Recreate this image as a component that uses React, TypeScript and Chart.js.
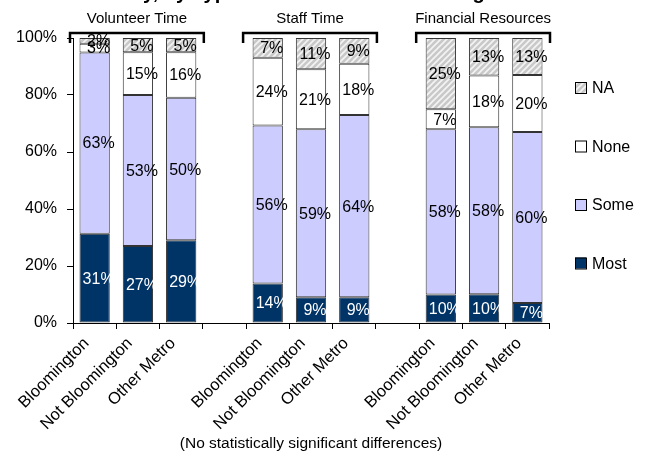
import React, { useEffect, useRef } from 'react';
import { Chart, registerables } from 'chart.js';

Chart.register(...registerables);

const categories = [
  'Bloomington', 'Not Bloomington', 'Other Metro', '',
  'Bloomington', 'Not Bloomington', 'Other Metro', '',
  'Bloomington', 'Not Bloomington', 'Other Metro',
];
const groupTitles = ['Volunteer Time', 'Staff Time', 'Financial Resources'];
const mostValues = [31, 27, 29, null, 14, 9, 9, null, 10, 10, 7];
const someValues = [63, 53, 50, null, 56, 59, 64, null, 58, 58, 60];
const noneValues = [3, 15, 16, null, 24, 21, 18, null, 7, 18, 20];
const naValues = [2, 5, 5, null, 7, 11, 9, null, 25, 13, 13];
const seriesNames = ['Most', 'Some', 'None', 'NA'];
const yTicks = [0, 20, 40, 60, 80, 100];
const footnote = '(No statistically significant differences)';
const titleText = 'Activity, by Type of Resource and Funding';

const FONT = 'Arial, "Liberation Sans", sans-serif';

function makeHatch(): CanvasPattern | string {
  const c = document.createElement('canvas');
  c.width = 6;
  c.height = 6;
  const g = c.getContext('2d');
  if (!g) return '#cccccc';
  g.fillStyle = '#c9c9c9';
  g.fillRect(0, 0, 6, 6);
  g.strokeStyle = '#f4f4f4';
  g.lineWidth = 1.6;
  g.beginPath();
  g.moveTo(-1, 7); g.lineTo(7, -1);
  g.moveTo(-1, 1); g.lineTo(1, -1);
  g.moveTo(5, 7); g.lineTo(7, 5);
  g.stroke();
  const p = g.createPattern(c, 'repeat');
  return p || '#cccccc';
}

export default function App() {
  const ref = useRef<HTMLCanvasElement | null>(null);

  useEffect(() => {
    if (!ref.current) return;
    const raw = [mostValues, someValues, noneValues, naValues];
    const totals = categories.map((_, i) =>
      raw.reduce((s, arr) => s + (arr[i] == null ? 0 : (arr[i] as number)), 0)
    );
    const norm = (arr: (number | null)[]) =>
      arr.map((v, i) => (v == null ? null : (v / totals[i]) * 100));
    const hatch = makeHatch();
    const fills = ['#003366', '#CCCCFF', '#FFFFFF', hatch];
    const labelColors = ['#FFFFFF', '#000000', '#000000', '#000000'];

    const overlay = {
      id: 'overlay',
      afterDraw(chart: any) {
        const ctx = chart.ctx as CanvasRenderingContext2D;
        const xs = chart.scales.x;
        const area = chart.chartArea;
        ctx.save();
        // data labels
        ctx.font = `16px ${FONT}`;
        ctx.textAlign = 'center';
        ctx.textBaseline = 'middle';
        raw.forEach((arr, d) => {
          const meta = chart.getDatasetMeta(d);
          meta.data.forEach((el: any, i: number) => {
            const v = arr[i];
            if (v == null) return;
            ctx.fillStyle = labelColors[d];
            ctx.fillText(`${v}%`, el.x + 4, (el.y + el.base) / 2 + 1);
          });
        });
        // x category labels (rotated)
        ctx.fillStyle = '#000';
        ctx.font = `16.5px ${FONT}`;
        ctx.textAlign = 'right';
        ctx.textBaseline = 'alphabetic';
        categories.forEach((c, i) => {
          if (!c) return;
          const x = xs.getPixelForValue(i) - 5;
          const y = area.bottom + 21;
          ctx.save();
          ctx.translate(x, y);
          ctx.rotate(-Math.PI / 4);
          ctx.fillText(c, 0, 0);
          ctx.restore();
        });
        // group titles and brackets
        const slot = xs.getPixelForValue(1) - xs.getPixelForValue(0);
        groupTitles.forEach((t, g) => {
          const x0 = xs.getPixelForValue(g * 4) - slot / 2 - 3;
          const x1 = xs.getPixelForValue(g * 4 + 2) + slot / 2 + 1;
          ctx.strokeStyle = '#000';
          ctx.lineWidth = 2.5;
          ctx.beginPath();
          ctx.moveTo(x0, area.top + 5);
          ctx.lineTo(x0, area.top - 5);
          ctx.lineTo(x1, area.top - 5);
          ctx.lineTo(x1, area.top + 5);
          ctx.stroke();
          ctx.fillStyle = '#000';
          ctx.font = `15px ${FONT}`;
          ctx.textAlign = 'center';
          ctx.textBaseline = 'alphabetic';
          ctx.fillText(t, (x0 + x1) / 2, area.top - 15);
        });
        // legend
        const order = [3, 2, 1, 0];
        const lx = area.right + 26;
        order.forEach((d, k) => {
          const cy = area.top + 50 + k * 58.5;
          ctx.fillStyle = fills[d] as any;
          ctx.fillRect(lx, cy - 6, 11, 11);
          ctx.strokeStyle = '#000';
          ctx.lineWidth = 1;
          ctx.strokeRect(lx + 0.5, cy - 5.5, 11, 11);
          ctx.fillStyle = '#000';
          ctx.font = `16px ${FONT}`;
          ctx.textAlign = 'left';
          ctx.textBaseline = 'middle';
          ctx.fillText(seriesNames[d], lx + 17, cy + 1);
        });
        // footnote
        ctx.font = `15.5px ${FONT}`;
        ctx.textAlign = 'center';
        ctx.textBaseline = 'middle';
        ctx.fillText(footnote, (area.left + area.right) / 2, 444);
        // clipped title
        ctx.font = `bold 20px ${FONT}`;
        ctx.textAlign = 'left';
        ctx.textBaseline = 'alphabetic';
        ctx.fillText(titleText, 82, -1);
        ctx.restore();
      },
    };

    const chart = new Chart(ref.current, {
      type: 'bar',
      data: {
        labels: categories,
        datasets: raw.map((arr, d) => ({
          label: seriesNames[d],
          data: norm(arr),
          backgroundColor: fills[d] as any,
          borderColor: '#333333',
          borderWidth: 1,
          borderSkipped: false,
          barPercentage: 0.7,
          categoryPercentage: 1,
        })),
      },
      options: {
        responsive: false,
        animation: false,
        devicePixelRatio: 1,
        layout: { padding: { top: 38, right: 101, left: 0, bottom: 0 } },
        plugins: {
          legend: { display: false },
          tooltip: { enabled: false },
          title: { display: false },
        },
        scales: {
          x: {
            stacked: true,
            offset: true,
            grid: {
              offset: true,
              drawOnChartArea: false,
              drawTicks: true,
              tickLength: 6,
              color: '#000',
            },
            border: { color: '#000', width: 1 },
            ticks: {
              display: false,
              autoSkip: false,
            },
            afterFit: (s: any) => {
              s.height = 130;
            },
          },
          y: {
            stacked: true,
            min: 0,
            max: 100,
            afterBuildTicks: (s: any) => {
              s.ticks = yTicks.map((v) => ({ value: v }));
            },
            ticks: {
              color: '#000',
              padding: 10,
              font: { family: FONT, size: 16 },
              callback: (v: any) => `${v}%`,
            },
            grid: { drawOnChartArea: false, tickLength: 6, color: '#000' },
            border: { color: '#000', width: 1 },
            afterFit: (s: any) => {
              s.width = 73;
            },
          },
        },
      },
      plugins: [overlay],
    });
    return () => chart.destroy();
  }, []);

  return (
    <div style={{ position: 'fixed', left: 0, top: 0, width: 650, height: 453, background: '#fff' }}>
      <canvas ref={ref} width={650} height={453} style={{ display: 'block' }} />
    </div>
  );
}
